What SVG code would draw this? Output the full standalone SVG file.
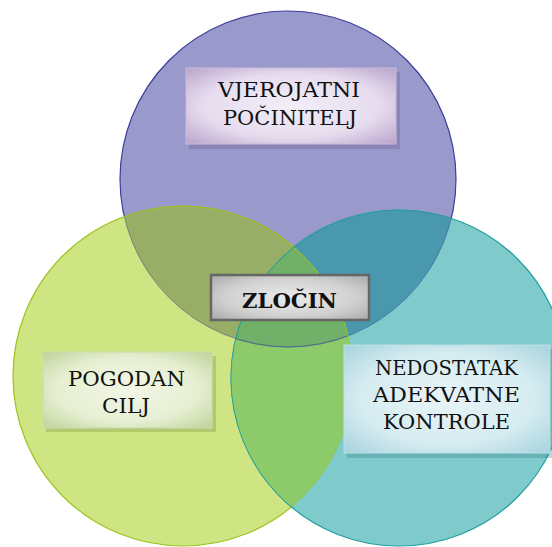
<svg xmlns="http://www.w3.org/2000/svg" width="552" height="547" viewBox="0 0 552 547">
<style>
text{font-family:"DejaVu Serif","Liberation Serif",serif;font-size:20px;fill:#111;text-anchor:middle}
.bold{font-weight:bold}
.shadow{opacity:0.3}
</style>
<defs>
<clipPath id="cP"><circle cx="288" cy="179" r="168"/></clipPath>
<clipPath id="cG"><circle cx="183" cy="376" r="170"/></clipPath>
<clipPath id="cT"><circle cx="399" cy="378" r="168"/></clipPath>
<radialGradient id="gPur" cx="0.5" cy="0.5" r="0.7">
<stop offset="0" stop-color="#f2eef7"/><stop offset="0.6" stop-color="#e6dcee"/><stop offset="1" stop-color="#b9a3cc"/>
</radialGradient>
<radialGradient id="gGrn" cx="0.5" cy="0.5" r="0.7">
<stop offset="0" stop-color="#f2f6e6"/><stop offset="0.6" stop-color="#e6efd2"/><stop offset="1" stop-color="#bfd49a"/>
</radialGradient>
<radialGradient id="gTeal" cx="0.5" cy="0.5" r="0.7">
<stop offset="0" stop-color="#e8f4f7"/><stop offset="0.6" stop-color="#d6ecf1"/><stop offset="1" stop-color="#a6d3dd"/>
</radialGradient>
<radialGradient id="gGray" cx="0.5" cy="0.5" r="0.7">
<stop offset="0" stop-color="#ececec"/><stop offset="0.6" stop-color="#d0d0d0"/><stop offset="1" stop-color="#a8a8a8"/>
</radialGradient>
</defs>
<g id="circles">
<g id="circle-perpetrator"><circle cx="288" cy="179" r="168" fill="#9999cc" stroke="#3d3d9e" stroke-width="1.2"/></g>
<g id="circle-target"><circle cx="183" cy="376" r="170" fill="#cfe483" stroke="#9cc41c" stroke-width="1.2"/></g>
<g id="circle-control"><circle cx="399" cy="378" r="168" fill="#7fcbcb" stroke="#1f9ea0" stroke-width="1.2"/></g>
<g id="overlaps">
<g clip-path="url(#cP)"><circle cx="183" cy="376" r="170" fill="#98ae66"/></g>
<g clip-path="url(#cP)"><circle cx="399" cy="378" r="168" fill="#4a98ae"/></g>
<g clip-path="url(#cG)"><circle cx="399" cy="378" r="168" fill="#8dcb6a"/></g>
<g clip-path="url(#cG)"><g clip-path="url(#cT)"><circle cx="288" cy="179" r="168" fill="#70b068"/></g></g>
</g>
<g id="edges" fill="none" stroke-width="1">
<g clip-path="url(#cG)"><circle cx="288" cy="179" r="168" stroke="#4b5f8a" opacity="0.6"/></g>
<g clip-path="url(#cT)"><circle cx="288" cy="179" r="168" stroke="#3a5c9a" opacity="0.6"/></g>
<g clip-path="url(#cP)"><circle cx="183" cy="376" r="170" stroke="#9cc41c" opacity="0.8"/></g>
<g clip-path="url(#cT)"><circle cx="183" cy="376" r="170" stroke="#9cc41c" opacity="0.6"/></g>
<g clip-path="url(#cP)"><circle cx="399" cy="378" r="168" stroke="#1f9ea0" opacity="0.8"/></g>
<g clip-path="url(#cG)"><circle cx="399" cy="378" r="168" stroke="#1f9ea0" opacity="0.6"/></g>
</g>
</g>
<g id="node-perpetrator">
<rect class="shadow" x="189" y="72" width="211" height="77" fill="#6a5a8a"/>
<rect x="186" y="68" width="210" height="76" fill="url(#gPur)" stroke="#cbbcd8" stroke-width="1"/>
<text x="289" y="97" textLength="142" lengthAdjust="spacingAndGlyphs">VJEROJATNI</text>
<text x="290" y="125" textLength="134" lengthAdjust="spacingAndGlyphs">POČINITELJ</text>
</g>
<g id="node-target">
<rect class="shadow" x="46" y="356" width="170" height="76" fill="#6f8a3a"/>
<rect x="43" y="352" width="169" height="76" fill="url(#gGrn)" stroke="#cfdcb4" stroke-width="1"/>
<text x="126.5" y="386" textLength="117" lengthAdjust="spacingAndGlyphs">POGODAN</text>
<text x="126" y="413" textLength="48" lengthAdjust="spacingAndGlyphs">CILJ</text>
</g>
<g id="node-control">
<rect class="shadow" x="347" y="349" width="206" height="109" fill="#2f7a86"/>
<rect x="344" y="345" width="206" height="108" fill="url(#gTeal)" stroke="#bfe0e8" stroke-width="1"/>
<text x="446.5" y="375" textLength="143" lengthAdjust="spacingAndGlyphs">NEDOSTATAK</text>
<text x="446.5" y="402" textLength="147" lengthAdjust="spacingAndGlyphs">ADEKVATNE</text>
<text x="446.5" y="429" textLength="127" lengthAdjust="spacingAndGlyphs">KONTROLE</text>
</g>
<g id="node-crime">
<rect x="211" y="275" width="158" height="45" fill="url(#gGray)" stroke="#666" stroke-width="2.5"/>
<text class="bold" x="289.5" y="308" textLength="95" lengthAdjust="spacingAndGlyphs">ZLOČIN</text>
</g>
</svg>
